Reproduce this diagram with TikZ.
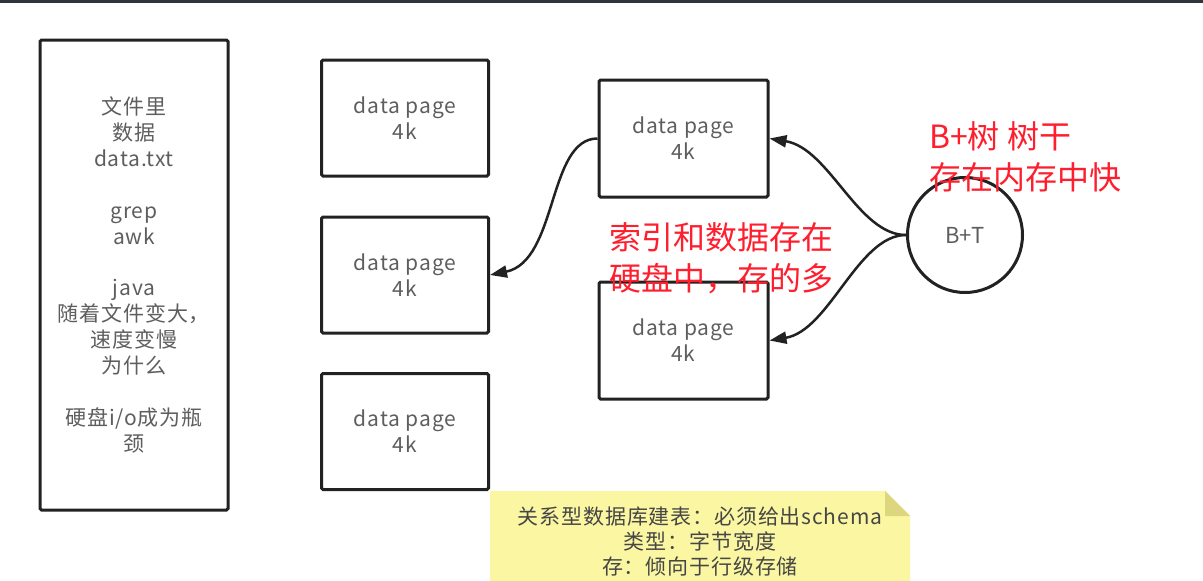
\documentclass[tikz,border=0pt]{standalone}
\usepackage{fontspec}
\setmainfont{Noto Sans CJK SC}
\newfontfamily\gfont{Noto Sans CJK SC}[LetterSpace=4]
\usetikzlibrary{arrows.meta}
\definecolor{ink}{HTML}{222222}
\definecolor{txt}{HTML}{5E5E5E}
\definecolor{redtxt}{HTML}{FF1E2D}
\definecolor{notefill}{HTML}{FBF6A2}
\definecolor{notefold}{HTML}{DCD67E}
\definecolor{topbar}{HTML}{2E353D}
\begin{document}
\begin{tikzpicture}[x=1pt,y=-1pt,
  boxstyle/.style={draw=ink,line width=3pt,rounded corners=1.5pt,rectangle,inner sep=0pt,align=center,
    text=txt,font=\gfont\fontsize{21}{26}\selectfont},
  pagebox/.style={boxstyle,minimum width=167pt,minimum height=116pt},
  midbox/.style={boxstyle,minimum width=169pt,minimum height=117pt},
  redlabel/.style={text=redtxt,align=left,inner sep=0pt,font=\fontsize{32}{41}\selectfont},
  arr/.style={draw=ink,line width=2.5pt,-{Triangle[length=17pt,width=12pt]}},
  notetext/.style={text=txt!75!black,align=center,inner sep=0pt,font=\gfont\fontsize{21}{25}\selectfont}]
\useasboundingbox (0,0) rectangle (1203,581);
\fill[white] (0,0) rectangle (1203,581);
\fill[topbar] (0,0) rectangle (1203,3);

% left text box
\node[boxstyle,minimum width=188pt,minimum height=470pt,font=\gfont\fontsize{21}{25.9}\selectfont] (file) at (134,275)
  {文件里\\数据\\data.txt\\[25.9pt]grep\\awk\\[25.9pt]java\\随着文件变大，\\速度变慢\\为什么\\[25.9pt]硬盘i/o成为瓶\\颈};

% data pages column
\node[pagebox] (p1) at (405,118) {data page\\4k};
\node[pagebox] (p2) at (405,275) {data page\\4k};
\node[pagebox] (p3) at (405,431.5) {data page\\4k};

% middle pages
\node[midbox] (pA) at (683.5,138.5) {data page\\4k};
\node[midbox] (pB) at (683.5,340.5) {data page\\4k};

% B+T circle
\node[draw=ink,line width=3pt,circle,minimum size=115pt,inner sep=0pt,text=txt,
  font=\fontsize{22}{24}\selectfont] (bt) at (965,235) {B+T};

% red annotations
\node[redlabel,anchor=west] (lblA) at (929,157) {B+树 树干\\存在内存中快};
\node[redlabel,anchor=west] (lblB) at (609,258) {索引和数据存在\\硬盘中，存的多};

% connectors
\draw[arr] (pA.west) .. controls +(-50,0) and +(68,-14) .. (p2.east);
\draw[arr] (bt.west) .. controls +(-48,0) and +(60,10) .. (pA.east);
\draw[arr] (bt.west) .. controls +(-48,0) and +(60,-10) .. (pB.east);

% sticky note
\fill[notefill] (490,491) -- (885,491) -- (910,516) -- (910,581) -- (490,581) -- cycle;
\fill[notefold] (885,491) -- (910,516) -- (885,516) -- cycle;
\node[notetext] (note) at (700,542) {关系型数据库建表：必须给出schema\\类型：字节宽度\\存：倾向于行级存储};
\end{tikzpicture}
\end{document}
